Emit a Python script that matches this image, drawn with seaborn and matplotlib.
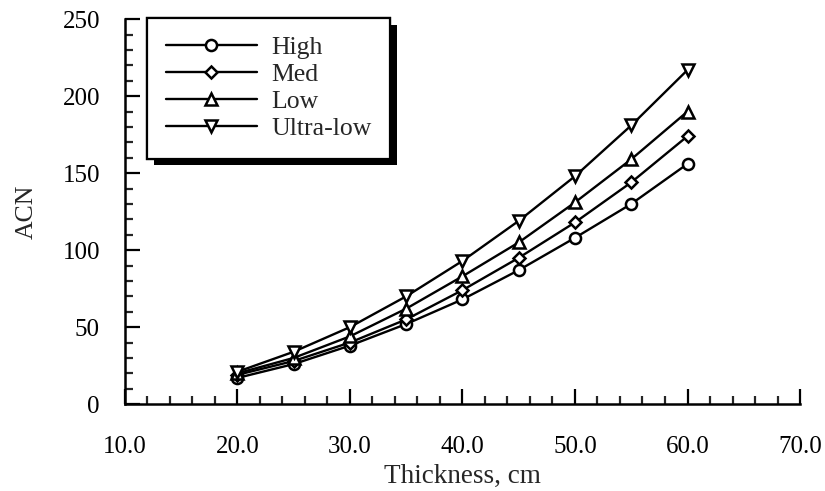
import matplotlib
matplotlib.use("Agg")
import matplotlib.pyplot as plt
import matplotlib.patheffects as pe
from matplotlib.ticker import MultipleLocator, FormatStrFormatter
import seaborn as sns
import pandas as pd

thickness = [20, 25, 30, 35, 40, 45, 50, 55, 60]
high = [17, 26, 38, 52, 68, 87, 108, 130, 156]
med = [19, 28, 40, 55, 74, 95, 118, 144, 174]
low = [20, 30, 44, 62, 83, 105, 131, 159, 190]
ultra_low = [21, 34, 50, 70, 93, 119, 148, 181, 217]
series_names = ["High", "Med", "Low", "Ultra-low"]

sns.set_style("ticks")
plt.rcParams["font.family"] = ["Liberation Serif", "DejaVu Serif"]
plt.rcParams["font.size"] = 18

fig = plt.figure(figsize=(8.25, 4.91), dpi=100)
ax = fig.add_axes([0.1515, 0.177, 0.8182, 0.784])

values = [high, med, low, ultra_low]
markers = ["o", "D", "^", "v"]
msizes = [8, 6, 8, 8]
for name, vals, m, ms in zip(series_names, values, markers, msizes):
    df = pd.DataFrame({"Thickness": thickness, "ACN": vals})
    sns.lineplot(data=df, x="Thickness", y="ACN", ax=ax, color="black",
                 lw=1.7, marker=m, markersize=ms, markerfacecolor="white",
                 markeredgecolor="black", markeredgewidth=1.8, label=name,
                 legend=False)

ax.set_xlim(10, 70)
ax.set_ylim(0, 250)
ax.xaxis.set_major_locator(MultipleLocator(10))
ax.xaxis.set_minor_locator(MultipleLocator(2))
ax.yaxis.set_major_locator(MultipleLocator(50))
ax.yaxis.set_minor_locator(MultipleLocator(10))
ax.xaxis.set_major_formatter(FormatStrFormatter("%.1f"))

for s in ["top", "right"]:
    ax.spines[s].set_visible(False)
for s in ["left", "bottom"]:
    ax.spines[s].set_linewidth(1.8)
    ax.spines[s].set_color("black")

ax.tick_params(which="major", direction="in", length=11, width=1.6,
               labelsize=18, colors="black")
ax.tick_params(which="minor", direction="in", length=6, width=1.6)
ax.tick_params(axis="x", which="major", pad=23)
ax.tick_params(axis="y", which="major", pad=18)

ax.set_xlabel("Thickness, cm", fontsize=19.5, labelpad=4)
ax.set_ylabel("ACN", fontsize=18.5, labelpad=18)

leg = ax.legend(loc="upper left", bbox_to_anchor=(0.033, 1.003),
                borderaxespad=0, frameon=True, fancybox=False, fontsize=18.5,
                handlelength=3.55, handletextpad=0.55, labelspacing=0.15,
                borderpad=0.72)
frame = leg.get_frame()
frame.set_edgecolor("black")
frame.set_linewidth(1.6)
frame.set_facecolor("white")
frame.set_alpha(1)
frame.set_path_effects([pe.withSimplePatchShadow(offset=(5, -5),
                                                 shadow_rgbFace="black",
                                                 alpha=1.0),
                        pe.Normal()])

fig.savefig("out.png", dpi=100)
